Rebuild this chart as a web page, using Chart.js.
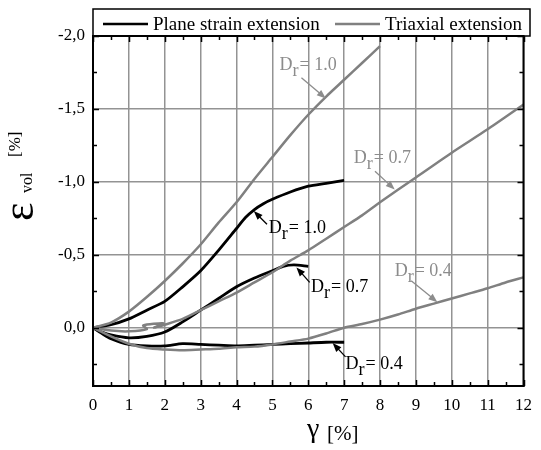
<!DOCTYPE html>
<html>
<head>
<meta charset="utf-8">
<script src="https://cdn.jsdelivr.net/npm/chart.js@4.4.1/dist/chart.umd.min.js"></script>
<style>
html,body{margin:0;padding:0;background:#fff;}
#wrap{width:541px;height:450px;}
</style>
</head>
<body>
<div id="wrap"><canvas id="c" width="541" height="450"></canvas></div>
<script>
// ---------- data ----------
const xTicks = [0,1,2,3,4,5,6,7,8,9,10,11,12];
const xTickLabels = ['0','1','2','3','4','5','6','7','8','9','10','11','12'];
const yTicks = [-2.0,-1.5,-1.0,-0.5,0.0];
const yTickLabels = ['-2,0','-1,5','-1,0','-0,5','0,0'];

const seriesNames = ['Plane strain extension','Triaxial extension'];

// Plane strain extension (black)
const psDr10_x = [0,0.5,1,1.5,2,2.5,3,3.5,4,4.25,4.5,4.75,5,5.5,6,6.5,7];
const psDr10_y = [0,-0.02,-0.06,-0.12,-0.18,-0.28,-0.39,-0.53,-0.68,-0.755,-0.81,-0.85,-0.88,-0.93,-0.97,-0.99,-1.01];
const psDr07_x = [0,0.25,0.5,1,1.5,2,2.5,3,3.5,4,4.5,5,5.3,5.6,6];
const psDr07_y = [0,0.03,0.05,0.07,0.06,0.03,-0.04,-0.12,-0.2,-0.28,-0.34,-0.39,-0.42,-0.43,-0.42];
const psDr04_x = [0,0.25,0.5,1,1.5,2,2.5,3,3.5,4,4.5,5,5.5,6,6.5,7];
const psDr04_y = [0,0.04,0.075,0.115,0.125,0.125,0.11,0.115,0.12,0.125,0.12,0.115,0.11,0.105,0.1,0.1];

// Triaxial extension (grey)
const txDr10_x = [0,0.5,1,1.5,2,2.5,3,3.5,4,4.5,5,5.5,6,6.5,7,7.5,8];
const txDr10_y = [0,-0.035,-0.11,-0.21,-0.32,-0.44,-0.57,-0.72,-0.86,-1.02,-1.17,-1.32,-1.46,-1.585,-1.70,-1.815,-1.93];
const txDr07_x = [0,0.5,1,1.5,1.4,1.95,1.7,2,2.5,3,3.5,4,4.5,5,5.5,6,6.5,7,7.5,8,9,10,11,12];
const txDr07_y = [0,0.02,0.025,0.01,-0.015,-0.03,0.0,-0.02,-0.06,-0.12,-0.18,-0.24,-0.31,-0.38,-0.46,-0.53,-0.61,-0.69,-0.77,-0.86,-1.03,-1.2,-1.36,-1.53];
const txDr04_x = [0,0.5,1,1.5,2,2.5,3,3.5,4,4.5,5,5.5,6,6.5,7,7.5,8,8.5,9,9.5,10,10.5,11,11.5,12];
const txDr04_y = [0,0.06,0.11,0.14,0.15,0.155,0.15,0.145,0.135,0.13,0.115,0.095,0.075,0.04,0.0,-0.025,-0.055,-0.09,-0.13,-0.165,-0.2,-0.235,-0.27,-0.31,-0.345];

// curve labels (text, colour group, label anchor in data units, arrow tail, arrow tip)
const labelTexts = ['1.0','0.7','0.4','1.0','0.7','0.4'];
const labelGroup = ['tx','tx','tx','ps','ps','ps'];
const labelAnchorX = [5.2,7.27,8.41,4.9,6.08,7.04];
const labelAnchorY = [-1.764,-1.13,-0.357,-0.652,-0.243,0.28];
const arrowTailX = [5.81,7.86,8.87,4.85,6.04,7.04];
const arrowTailY = [-1.713,-1.072,-0.322,-0.709,-0.311,0.2];
const arrowTipX = [6.49,8.41,9.6,4.48,5.67,6.68];
const arrowTipY = [-1.572,-0.948,-0.175,-0.80,-0.413,0.105];

// ---------- styles ----------
const BLACK = '#000000';
const GREY = '#808080';
const GREY_TXT = '#8c8c8c';
const GRID = '#939393';
const FONT = 'Liberation Serif';

function pts(xs, ys){ return xs.map((x,i)=>({x:x, y:ys[i]})); }
function ds(xs, ys, color, w){
  return {data: pts(xs,ys), showLine:true, borderColor:color, backgroundColor:color,
          borderWidth:w, pointRadius:0, tension:0.25, fill:false};
}

const framePlugin = {
  id:'frame',
  afterDraw(chart){
    const ctx = chart.ctx;
    const a = chart.chartArea;
    const xs = chart.scales.x, ys = chart.scales.y;
    ctx.save();
    // ticks inward
    ctx.strokeStyle = BLACK; ctx.lineWidth = 1.5;
    ctx.beginPath();
    for (let i=0;i<=24;i++){
      const v = i*0.5; const px = Math.round(xs.getPixelForValue(v))+0.5;
      const L = (i%2===0)?6:4;
      ctx.moveTo(px,a.bottom); ctx.lineTo(px,a.bottom-L);
      ctx.moveTo(px,a.top); ctx.lineTo(px,a.top+L);
    }
    for (let i=0;i<=9;i++){
      const v = -2.0 + i*0.25; const py = Math.round(ys.getPixelForValue(v))+0.5;
      const L = (i%2===0)?6:4;
      ctx.moveTo(a.left,py); ctx.lineTo(a.left+L,py);
      ctx.moveTo(a.right,py); ctx.lineTo(a.right-L,py);
    }
    ctx.stroke();
    // frame
    ctx.lineWidth = 2;
    ctx.strokeRect(a.left, a.top, a.right-a.left, a.bottom-a.top);
    // legend box
    ctx.lineWidth = 1.5;
    ctx.strokeRect(a.left, 9, 437, a.top-9);
    ctx.font = '19px "'+FONT+'"';
    ctx.textBaseline = 'alphabetic';
    ctx.textAlign = 'left';
    ctx.lineWidth = 2.5;
    ctx.strokeStyle = BLACK;
    ctx.beginPath(); ctx.moveTo(103,24); ctx.lineTo(148,24); ctx.stroke();
    ctx.fillStyle = BLACK; ctx.fillText(seriesNames[0], 153, 30);
    ctx.strokeStyle = GREY;
    ctx.beginPath(); ctx.moveTo(335,24); ctx.lineTo(380,24); ctx.stroke();
    ctx.fillStyle = BLACK; ctx.fillText(seriesNames[1], 385, 30);

    // curve labels + arrows
    for (let i=0;i<labelTexts.length;i++){
      const col = labelGroup[i]==='tx' ? GREY_TXT : BLACK;
      const lx = xs.getPixelForValue(labelAnchorX[i]);
      const ly = ys.getPixelForValue(labelAnchorY[i]);
      ctx.fillStyle = col;
      ctx.font = '18px "'+FONT+'"';
      ctx.fillText('D', lx, ly);
      let w = ctx.measureText('D').width;
      ctx.fillText('r', lx+w, ly+6);
      w += ctx.measureText('r').width + 1;
      ctx.fillText('= '+labelTexts[i], lx+w, ly);
      // arrow
      const tx = xs.getPixelForValue(arrowTailX[i]), ty = ys.getPixelForValue(arrowTailY[i]);
      const hx = xs.getPixelForValue(arrowTipX[i]), hy = ys.getPixelForValue(arrowTipY[i]);
      const ang = Math.atan2(hy-ty, hx-tx);
      ctx.strokeStyle = col; ctx.lineWidth = 1.3;
      ctx.beginPath(); ctx.moveTo(tx,ty);
      ctx.lineTo(hx-6*Math.cos(ang), hy-6*Math.sin(ang)); ctx.stroke();
      ctx.beginPath();
      ctx.moveTo(hx,hy);
      ctx.lineTo(hx-9*Math.cos(ang)+3.5*Math.sin(ang), hy-9*Math.sin(ang)-3.5*Math.cos(ang));
      ctx.lineTo(hx-9*Math.cos(ang)-3.5*Math.sin(ang), hy-9*Math.sin(ang)+3.5*Math.cos(ang));
      ctx.closePath(); ctx.fill();
    }

    // x title
    ctx.fillStyle = BLACK;
    ctx.font = '28px "'+FONT+'"';
    ctx.fillText('γ', 307, 437);
    ctx.font = '21px "'+FONT+'"';
    ctx.fillText('[%]', 327, 440);

    // y title (rotated)
    ctx.rotate(-Math.PI/2);
    ctx.font = '44px "'+FONT+'"';
    ctx.fillText('ε', -221, 33);
    ctx.font = '16px "'+FONT+'"';
    ctx.fillText('vol', -193, 32);
    ctx.font = '17px "'+FONT+'"';
    ctx.fillText('[%]', -157, 20);
    ctx.restore();
  }
};

new Chart(document.getElementById('c'), {
  type:'scatter',
  data:{
    datasets:[
      ds(txDr10_x, txDr10_y, GREY, 2.5),
      ds(txDr07_x, txDr07_y, GREY, 2.5),
      ds(txDr04_x, txDr04_y, GREY, 2.5),
      ds(psDr10_x, psDr10_y, BLACK, 2.8),
      ds(psDr07_x, psDr07_y, BLACK, 2.8),
      ds(psDr04_x, psDr04_y, BLACK, 2.8)
    ]
  },
  options:{
    responsive:false,
    animation:false,
    layout:{padding:{left:0,right:10,top:36,bottom:0}},
    plugins:{legend:{display:false}, tooltip:{enabled:false}, title:{display:false}},
    scales:{
      x:{
        type:'linear', min:0, max:12,
        afterBuildTicks(scale){ scale.ticks = xTicks.map(v=>({value:v})); },
        afterFit(scale){ scale.height = 64; },
        ticks:{ autoSkip:false, maxRotation:0, padding:9, color:BLACK,
                font:{family:FONT, size:17},
                callback:(v,i)=>xTickLabels[i] },
        grid:{ color:GRID, lineWidth:1.5, drawTicks:false },
        border:{ display:true, color:BLACK, width:2 }
      },
      y:{
        type:'linear', min:-2.0, max:0.4, reverse:true,
        afterBuildTicks(scale){ scale.ticks = yTicks.map(v=>({value:v})); },
        afterFit(scale){ scale.width = 93; },
        ticks:{ autoSkip:false, padding:8, color:BLACK,
                font:{family:FONT, size:17},
                callback:(v,i)=>yTickLabels[i] },
        grid:{ color:GRID, lineWidth:1.5, drawTicks:false },
        border:{ display:true, color:BLACK, width:2 }
      }
    }
  },
  plugins:[framePlugin]
});
</script>
</body>
</html>
